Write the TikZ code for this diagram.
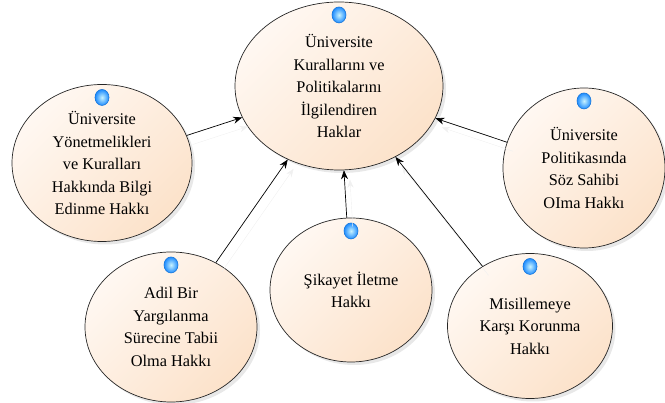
\documentclass[tikz,border=0pt]{standalone}
\usepackage{fontspec}
\setmainfont{Liberation Serif}
\usetikzlibrary{shapes.geometric,positioning,arrows.meta,shadows}
\definecolor{peachlight}{RGB}{255,248,242}
\definecolor{peachdark}{RGB}{252,226,202}
\definecolor{dotblue}{RGB}{30,140,255}
\definecolor{dotlight}{RGB}{200,243,255}

\begin{document}
\begin{tikzpicture}[x=1pt, y=-1pt, font=\fontsize{16.3}{22.5}\selectfont,
    hakellipse/.style={ellipse, draw=black!85, line width=0.7pt, inner sep=0pt,
        top color=peachlight, bottom color=peachdark, shading angle=45,
        drop shadow={opacity=0.18, shadow xshift=3pt, shadow yshift=-3pt}},
    hakdot/.style={ellipse, minimum width=14pt, minimum height=16pt, inner sep=0pt,
        draw=dotblue!85!black, line width=0.6pt, inner color=dotlight, outer color=dotblue},
    haktext/.style={align=center, inner sep=0pt},
    hakarrow/.style={-{Stealth[length=9pt,width=7pt]}, line width=0.7pt,
        preaction={draw=black!6, transform canvas={shift={(6pt,-9pt)}}}}]
\useasboundingbox (0,0) rectangle (665,403);

% Rights (ellipses)
\node[hakellipse, minimum width=208pt, minimum height=168pt] (haklar) at (339,86) {};
\node[hakellipse, minimum width=180pt, minimum height=157pt] (yonetmelik) at (102,163) {};
\node[hakellipse, minimum width=162pt, minimum height=160pt] (politika) at (584,168) {};
\node[hakellipse, minimum width=172pt, minimum height=150pt] (yargi) at (171,327) {};
\node[hakellipse, minimum width=162pt, minimum height=144pt] (sikayet) at (351,290) {};
\node[hakellipse, minimum width=165pt, minimum height=145pt] (misilleme) at (530,326) {};

% Texts
\node[haktext] (haklar-t) at (haklar) {Üniversite\\Kurallarını ve\\Politikalarını\\İlgilendiren\\Haklar};
\node[haktext] (yonetmelik-t) at (yonetmelik) {Üniversite\\Yönetmelikleri\\ve Kuralları\\Hakkında Bilgi\\Edinme Hakkı};
\node[haktext] (politika-t) at (politika) {Üniversite\\Politikasında\\Söz Sahibi\\OIma Hakkı};
\node[haktext] (yargi-t) at (yargi) {Adil Bir\\Yargılanma\\Sürecine Tabii\\Olma Hakkı};
\node[haktext] (sikayet-t) at (sikayet) {Şikayet İletme\\Hakkı};
\node[haktext] (misilleme-t) at (misilleme) {Misillemeye\\Karşı Korunma\\Hakkı};

% Blue markers
\foreach \n in {haklar, yonetmelik, politika, yargi, sikayet, misilleme} {
    \node[hakdot, below=5pt of \n.north] (\n-dot) {};
}

% Arrows to the main right
\foreach \n in {yonetmelik, politika, yargi, sikayet, misilleme} {
    \draw[hakarrow] (\n) -- (haklar);
}

\end{tikzpicture}
\end{document}
